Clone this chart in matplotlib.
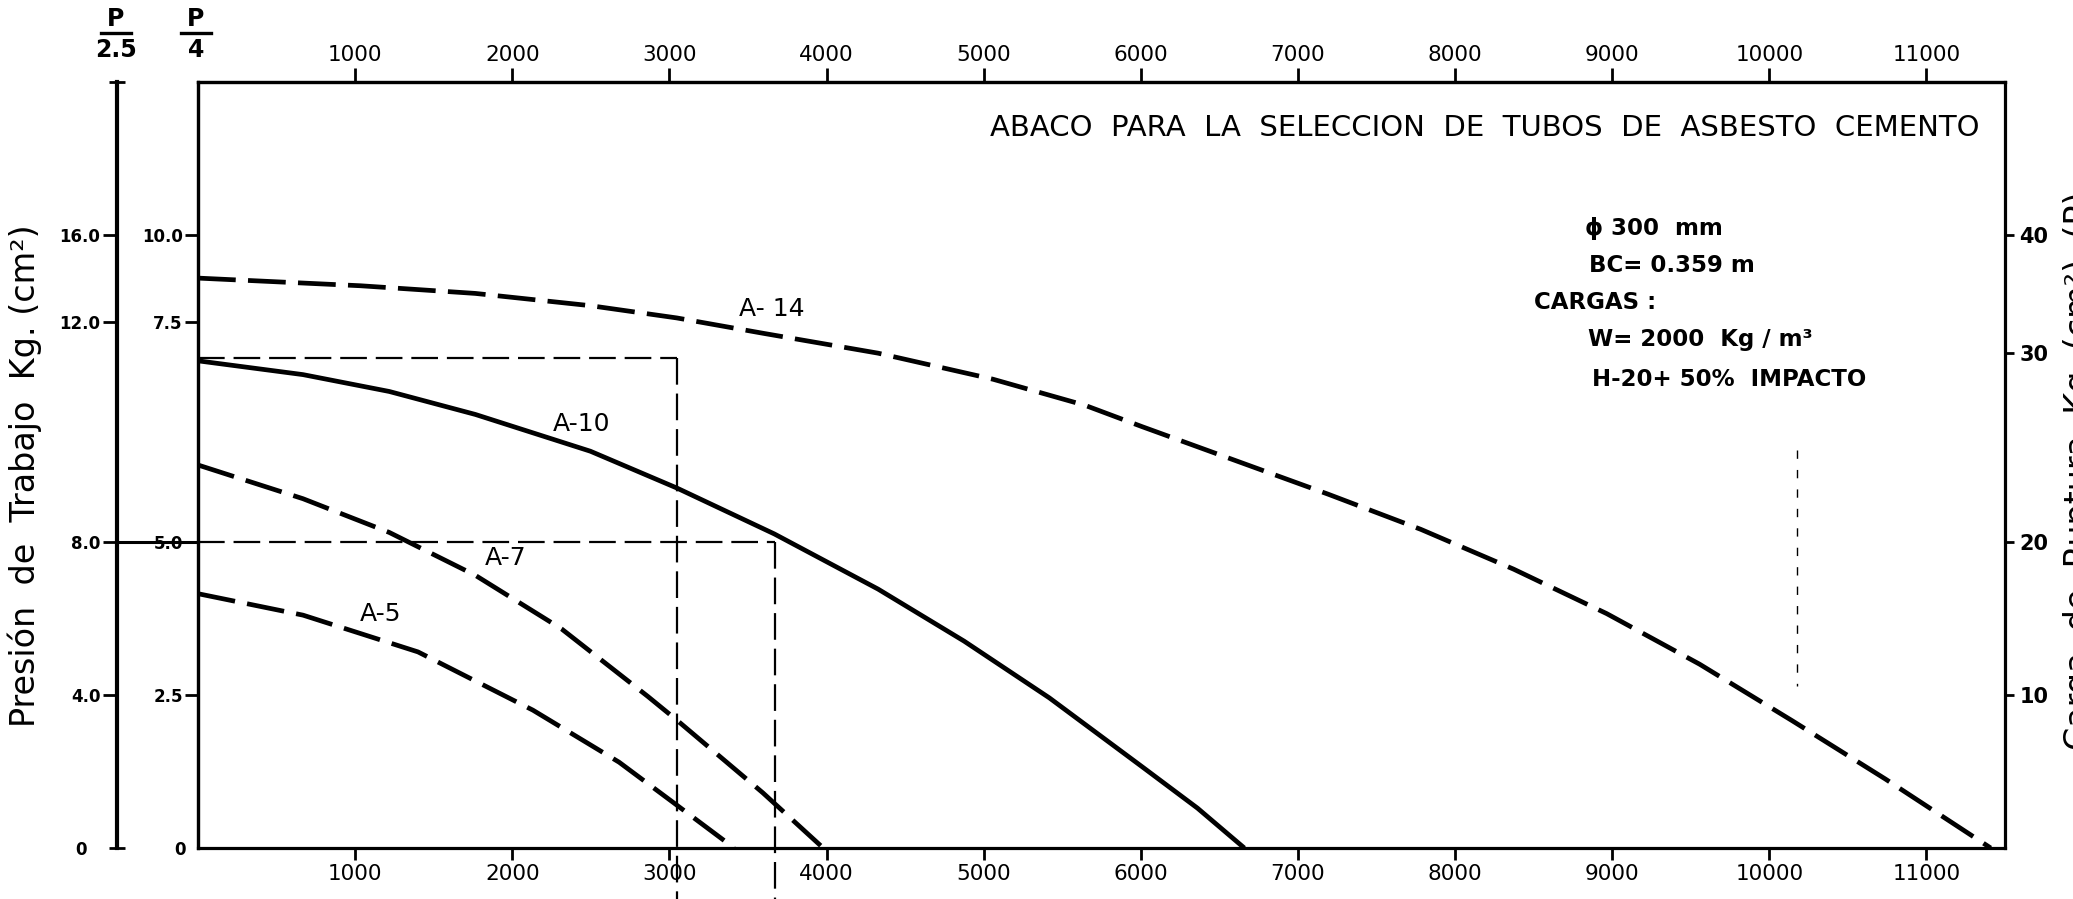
import matplotlib
matplotlib.use("Agg")
import matplotlib.pyplot as plt
from matplotlib.lines import Line2D
from matplotlib.transforms import blended_transform_factory

plt.rcParams["font.family"] = ["DejaVu Sans"]

# ---- data: load W (kg/m) against rupture load P (kg/cm²) for each pipe class ----
a14_w = [0, 1034, 1765, 2497, 3047, 3595, 4328, 5059, 5644, 6009, 6600, 7191,
         7782, 8373, 8965, 9556, 10147, 10739, 11409]
a14_p = [37.2, 36.7, 36.2, 35.4, 34.6, 33.6, 32.3, 30.6, 28.9, 27.5, 25.3, 23.1,
         20.8, 18.2, 15.3, 12.0, 8.3, 4.5, 0.0]

a10_w = [0, 668, 1217, 1765, 2497, 3047, 3668, 4328, 4876, 5418, 6009, 6361, 6659]
a10_p = [31.8, 30.9, 29.8, 28.3, 25.9, 23.5, 20.5, 16.9, 13.5, 9.8, 5.3, 2.6, 0.0]

a7_w = [0, 668, 1217, 1765, 2314, 2862, 3047, 3595, 3979]
a7_p = [25.0, 22.8, 20.6, 17.8, 14.3, 9.9, 8.35, 3.6, 0.0]

a5_w = [0, 668, 1400, 2131, 2680, 3047, 3412]
a5_p = [16.6, 15.2, 12.8, 9.0, 5.6, 2.8, 0.0]

curve_names = ["A- 14", "A-10", "A-7", "A-5"]
label_w = [3650, 2441, 1957, 1160]
label_p = [35.2, 27.7, 18.9, 15.3]

# worked example
guide_p = [32, 20]
guide_w = [3050, 3670]

# faint construction mark near the right
mark_w = 10178
mark_p = [26.0, 10.6]

w_ticks = [1000, 2000, 3000, 4000, 5000, 6000, 7000, 8000, 9000, 10000, 11000]

# graduations of the three pressure scales, where the hand-drawn scales place them
p_tick_at = [10, 20, 32.3, 40]
p_labels = ["10", "20", "30", "40"]
p4_tick_at = [2.5, 5.0, 8.58, 10.0]
p4_labels = ["2.5", "5.0", "7.5", "10.0"]
p25_tick_at = [4.0, 8.0, 13.73, 16.0]
p25_labels = ["4.0", "8.0", "12.0", "16.0"]

W_PX, H_PX, DPI = 2073, 899, 100
fig = plt.figure(figsize=(W_PX / DPI, H_PX / DPI), dpi=DPI)
fig.patch.set_facecolor("white")


def fx(px):
    return px / W_PX


def fy(py):
    return 1 - py / H_PX


L, R, T, B = 198, 2005, 82, 848
ax = fig.add_axes([fx(L), fy(B), fx(R) - fx(L), fy(T) - fy(B)])
ax.set_xlim(0, 11500)
ax.set_ylim(0, 50)
for s in ax.spines.values():
    s.set_linewidth(2.3)

# curves
dash = (0, (8, 2.6))
ax.plot(a14_w, a14_p, color="black", lw=3.4, linestyle=dash)
ax.plot(a10_w, a10_p, color="black", lw=3.4, solid_capstyle="butt",
        solid_joinstyle="round")
ax.plot(a7_w, a7_p, color="black", lw=3.4, linestyle=dash)
ax.plot(a5_w, a5_p, color="black", lw=3.4, linestyle=dash)

for name, xw, yp in zip(curve_names, label_w, label_p):
    ax.text(xw, yp, name, fontsize=18, ha="center", va="center")

# guide lines
gdash = (0, (12, 4))
for gp, gw in zip(guide_p, guide_w):
    ax.plot([0, gw], [gp, gp], color="black", lw=1.6, linestyle=gdash)
    ax.plot([gw, gw], [gp, -3.4], color="black", lw=1.6, linestyle=gdash,
            clip_on=False)
ax.plot([mark_w, mark_w], mark_p, color="black", lw=1.0, linestyle=(0, (6, 8)))

# bottom / top load scales
ax.set_xticks(w_ticks)
ax.set_xticklabels([str(v) for v in w_ticks])
ax.tick_params(axis="x", direction="out", length=8.6, width=2, labelsize=15.5, pad=3)
top = ax.secondary_xaxis("top")
top.set_xticks(w_ticks)
top.set_xticklabels([str(v) for v in w_ticks])
top.tick_params(axis="x", direction="out", length=10, width=2, labelsize=15.5, pad=2.5)
top.spines["top"].set_linewidth(2.3)

# right scale: P
ax.yaxis.tick_right()
ax.set_yticks(p_tick_at)
ax.set_yticklabels(p_labels, fontweight="bold")
ax.tick_params(axis="y", direction="out", length=6.5, width=2, labelsize=15, pad=4)

# left scale: P/4
p4 = ax.secondary_yaxis("left", functions=(lambda p: p / 4, lambda q: q * 4))
p4.set_yticks(p4_tick_at)
p4.set_yticklabels(p4_labels, fontweight="bold")
p4.set_yticks([0], minor=True)
p4.set_yticklabels(["0"], minor=True, fontweight="bold")
p4.tick_params(axis="y", which="major", direction="out", length=9.4, width=2,
               labelsize=12, pad=1.5)
p4.tick_params(axis="y", which="minor", length=0, labelsize=12, pad=8.6)
p4.spines["left"].set_linewidth(2.3)

# outer scale: P/2.5
loc = (117 - L) / (R - L)
p25 = ax.secondary_yaxis(loc, functions=(lambda p: p / 2.5, lambda q: q * 2.5))
p25.set_yticks(p25_tick_at)
p25.set_yticklabels(p25_labels, fontweight="bold")
p25.set_yticks([0, 20], minor=True)
p25.set_yticklabels(["0", ""], minor=True, fontweight="bold")
p25.tick_params(axis="y", which="major", direction="out", length=10, width=2,
                labelsize=12, pad=2)
p25.tick_params(axis="y", which="minor", direction="inout", length=11.5, width=2,
                labelsize=12, pad=16)
p25.spines["left"].set_linewidth(3.0)

# the P = 20 reading carried across both pressure scales
tr = blended_transform_factory(ax.transAxes, ax.transData)
ax.plot([loc, 0], [guide_p[1], guide_p[1]], color="black", lw=2.2,
        transform=tr, clip_on=False)

# scale headers P/2.5 and P/4
for xc, den in [(116, "2.5"), (196, "4")]:
    fig.text(fx(xc), fy(19), "P", fontsize=17, ha="center", va="center",
             fontweight="bold")
    fig.add_artist(Line2D([fx(xc - 15), fx(xc + 15)], [fy(33), fy(33)],
                          color="black", lw=2.4))
    fig.text(fx(xc), fy(50), den, fontsize=17, ha="center", va="center",
             fontweight="bold")

# axis titles
fig.text(fx(25), fy(476), "Presión  de  Trabajo  Kg. (cm²)", rotation=90,
         fontsize=24, ha="center", va="center")
fig.text(fx(2079), fy(471), "Carga  de  Ruptura  Kg. (cm²)  (P)", rotation=90,
         fontsize=24, ha="center", va="center")

# title and design data
fig.text(fx(1980), fy(128),
         "ABACO  PARA  LA  SELECCION  DE  TUBOS  DE  ASBESTO  CEMENTO",
         fontsize=21, ha="right", va="center")
notes = [
    (1585, 228, "ϕ 300  mm"),
    (1589, 265, "BC= 0.359 m"),
    (1534, 302, "CARGAS :"),
    (1588, 340, "W= 2000  Kg / m³"),
    (1592, 380, "H-20+ 50%  IMPACTO"),
]
for xp, yp, s in notes:
    fig.text(fx(xp), fy(yp), s, fontsize=16.5, ha="left", va="center",
             fontweight="semibold")

fig.savefig("out.png", dpi=DPI, facecolor="white")
